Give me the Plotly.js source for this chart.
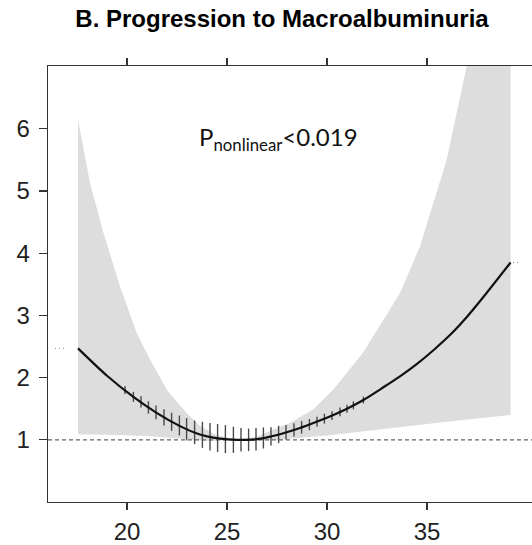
<!DOCTYPE html>
<html>
<head>
<meta charset="utf-8">
<script src="https://cdn.plot.ly/plotly-3.0.1.min.js"></script>
<style>
  html, body { margin: 0; padding: 0; background: #fff; }
  #chart { width: 532px; height: 545px; }
</style>
</head>
<body>
<div id="chart"></div>
<script>
// Spline estimate of the odds ratio against BMI
const curveX = [17.55, 19.0, 20.32, 21.5, 22.65, 23.5, 24.0, 24.65, 25.5, 26.0, 26.5, 27.0, 27.65, 28.65, 29.48, 30.32, 31.0, 31.82, 32.7, 33.65, 34.5, 35.32, 36.2, 36.98, 37.98, 39.18];
const curveY = [2.47, 2.03, 1.69, 1.43, 1.22, 1.10, 1.055, 1.02, 1.00, 1.00, 1.01, 1.04, 1.09, 1.19, 1.29, 1.40, 1.50, 1.64, 1.82, 2.02, 2.22, 2.44, 2.70, 2.97, 3.36, 3.85];

// 95% confidence band: upper and lower limits
const upperX = [17.55, 18.15, 18.82, 19.65, 20.48, 21.15, 22.0, 22.98, 23.65, 24.5, 25.5, 26.5, 27.15, 28.15, 29.32, 30.32, 31.8, 33.65, 34.65, 35.98, 36.98, 38.0, 39.18];
const upperY = [6.15, 5.13, 4.33, 3.47, 2.72, 2.29, 1.80, 1.43, 1.22, 1.07, 1.00, 1.05, 1.14, 1.27, 1.49, 1.81, 2.40, 3.36, 4.11, 5.50, 7.00, 8.80, 11.20];
const lowerX = [17.55, 19.0, 21.0, 22.0, 23.0, 24.0, 25.5, 26.5, 27.5, 30.0, 33.0, 36.0, 39.18];
const lowerY = [1.09, 1.08, 1.06, 1.04, 1.01, 0.98, 1.00, 0.99, 1.00, 1.07, 1.18, 1.29, 1.40];

// Observed points with their interval half-widths
const obsX = [19.9, 20.32, 20.7, 21.07, 21.45, 21.85, 22.23, 22.62, 22.98, 23.38, 23.77, 24.15, 24.53, 24.92, 25.32, 25.7, 26.08, 26.45, 26.82, 27.2, 27.58, 27.95, 28.35, 28.73, 29.12, 29.5, 29.87, 30.25, 30.65, 31.0, 31.32, 31.82];
const obsY = [1.80, 1.69, 1.61, 1.52, 1.44, 1.36, 1.29, 1.23, 1.17, 1.12, 1.08, 1.05, 1.03, 1.01, 1.00, 1.00, 1.00, 1.01, 1.03, 1.055, 1.085, 1.12, 1.16, 1.20, 1.245, 1.29, 1.34, 1.39, 1.45, 1.50, 1.555, 1.64];
const obsErr = [0.065, 0.08, 0.09, 0.10, 0.11, 0.13, 0.145, 0.16, 0.18, 0.19, 0.21, 0.22, 0.225, 0.225, 0.21, 0.19, 0.18, 0.18, 0.17, 0.145, 0.14, 0.12, 0.105, 0.10, 0.09, 0.08, 0.08, 0.07, 0.07, 0.065, 0.065, 0.055];

const xTicks = [20, 25, 30, 35];
const yTicks = [1, 2, 3, 4, 5, 6];
const refOR = 1;
const titleText = 'B. Progression to Macroalbuminuria';
const pText = 'P<sub>nonlinear</sub><0.019';

const xRange = [16.05, 40.25];
const yRange = [0, 7.01];

const bandX = upperX.concat(lowerX.slice().reverse());
const bandY = upperY.concat(lowerY.slice().reverse());

const traces = [
  {
    x: bandX, y: bandY, type: 'scatter', mode: 'lines',
    fill: 'toself', fillcolor: 'rgb(221,221,221)',
    line: { width: 0, color: 'rgba(0,0,0,0)' }, hoverinfo: 'skip'
  },
  {
    x: xRange, y: [refOR, refOR], type: 'scatter', mode: 'lines',
    line: { color: '#666', width: 1.3, dash: '4px,3px' }, hoverinfo: 'skip'
  },
  {
    x: [16.4, 17.0], y: [curveY[0], curveY[0]], type: 'scatter', mode: 'lines',
    line: { color: '#888', width: 1, dash: '1px,3px' }, hoverinfo: 'skip'
  },
  {
    x: [39.3, 39.6], y: [curveY[curveY.length - 1], curveY[curveY.length - 1]], type: 'scatter', mode: 'lines',
    line: { color: '#888', width: 1, dash: '1px,3px' }, hoverinfo: 'skip'
  },
  {
    x: obsX, y: obsY, type: 'scatter', mode: 'markers',
    marker: { size: 1, color: 'rgba(0,0,0,0)' },
    error_y: { type: 'data', array: obsErr, visible: true, width: 0, thickness: 1.4, color: '#4a4a4a' },
    hoverinfo: 'skip'
  },
  {
    x: curveX, y: curveY, type: 'scatter', mode: 'lines',
    line: { color: '#111', width: 2.2, shape: 'spline', smoothing: 0.8 }, hoverinfo: 'skip'
  }
];

const axisFont = { family: 'Liberation Sans, Arial, sans-serif', size: 24, color: '#222' };

const layout = {
  width: 532, height: 545,
  margin: { l: 48, r: 0, t: 66, b: 43, pad: 0 },
  paper_bgcolor: '#fff', plot_bgcolor: '#fff',
  showlegend: false,
  title: {
    text: '<b>' + titleText + '</b>',
    x: 282 / 532, xanchor: 'center', xref: 'container',
    y: 1 - 19 / 545, yanchor: 'middle', yref: 'container',
    font: { family: 'Liberation Sans, Arial, sans-serif', size: 24, color: '#000' }
  },
  xaxis: {
    range: xRange, tickvals: xTicks, ticktext: xTicks.map(String),
    showline: true, linecolor: '#333', linewidth: 1.3,
    mirror: 'ticks', ticks: 'outside', ticklen: 7, tickwidth: 1.2, tickcolor: '#333',
    showgrid: false, zeroline: false, tickfont: axisFont, ticklabelstandoff: 1
  },
  yaxis: {
    range: yRange, tickvals: yTicks, ticktext: yTicks.map(String),
    showline: true, linecolor: '#333', linewidth: 1.3,
    ticks: 'outside', ticklen: 8, tickwidth: 1.2, tickcolor: '#333',
    showgrid: false, zeroline: false, tickfont: axisFont, ticklabelstandoff: 4
  },
  annotations: [{
    text: pText, xref: 'paper', yref: 'paper',
    x: (197 - 48) / 484, xanchor: 'left',
    y: (502.5 - 139) / 436.5, yanchor: 'middle',
    showarrow: false,
    font: { family: 'Lato, Carlito, sans-serif', size: 24, color: '#111' }
  }]
};

Plotly.newPlot('chart', traces, layout, { staticPlot: true, displayModeBar: false });
</script>
</body>
</html>
